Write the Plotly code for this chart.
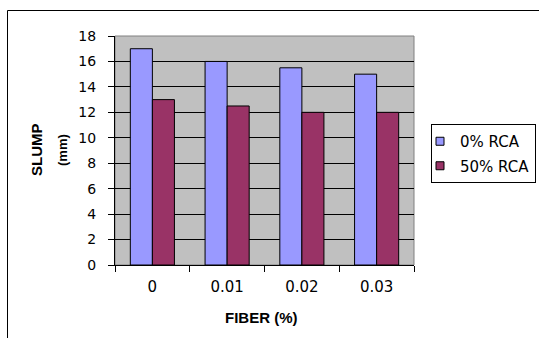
import plotly.graph_objects as go

categories = ["0", "0.01", "0.02", "0.03"]
rca0 = [17, 16, 15.5, 15]
rca50 = [13, 12.5, 12, 12]
series_names = ["0% RCA", "50% RCA"]
series_colors = ["#9999FF", "#993366"]
y_ticks = list(range(0, 19, 2))

W, H = 539, 338
L, R, T, B = 115, 414, 36, 265

def px_x(x):
    return (x - L) / (R - L)

def px_y(y):
    return (B - y) / (B - T)

fig = go.Figure()
for vals, name, col in zip([rca0, rca50], series_names, series_colors):
    fig.add_trace(go.Bar(x=categories, y=vals, name=name, showlegend=False,
                         marker=dict(color=col, line=dict(color="#000000", width=1))))
# legend entries with small square swatches
for name, col in zip(series_names, series_colors):
    fig.add_trace(go.Scatter(x=[None], y=[None], mode="markers", name=name,
                             legendgroup=name,
                             marker=dict(symbol="square", size=8, color=col,
                                         line=dict(color="#000000", width=1))))

font = "Liberation Sans, Arial, sans-serif"
tfont = "DejaVu Sans, Verdana, sans-serif"

fig.update_layout(
    width=W, height=H,
    margin=dict(l=L, r=W - R, t=T, b=H - B, pad=0, autoexpand=False),
    paper_bgcolor="white",
    plot_bgcolor="#C0C0C0",
    barmode="group",
    bargap=0.41,
    bargroupgap=0,
    font=dict(family=tfont, size=14, color="#000000"),
    showlegend=True,
    legend=dict(x=px_x(431), y=px_y(124), xanchor="left", yanchor="top",
                bgcolor="white", bordercolor="#000000", borderwidth=1,
                font=dict(family=tfont, size=15, color="#000000"),
                itemwidth=30, indentation=-12, traceorder="grouped",
                tracegroupgap=2),
)

fig.update_xaxes(
    type="category", showgrid=False, showline=True, linecolor="#000000", linewidth=1,
    ticks="outside", ticklen=6, tickcolor="#000000", tickson="boundaries",
    ticklabelstandoff=8, tickfont=dict(family=tfont, size=15), zeroline=False,
    automargin=False,
)
fig.update_yaxes(
    range=[0, 18], tickvals=y_ticks, showgrid=True, gridcolor="#000000", gridwidth=1,
    showline=True, linecolor="#000000", linewidth=1, zeroline=False,
    ticks="outside", ticklen=6, tickcolor="#000000", ticklabelstandoff=9,
    tickfont=dict(family=tfont, size=14), automargin=False,
)

# plot-area border (gray) and outer frame
fig.add_shape(type="rect", xref="paper", yref="paper", x0=0, y0=0, x1=1, y1=1,
              line=dict(color="#808080", width=1), layer="below")
fig.add_shape(type="rect", xref="paper", yref="paper",
              x0=px_x(7.5), y0=px_y(350), x1=px_x(550), y1=px_y(10.5),
              line=dict(color="#000000", width=1), layer="below")

fig.add_annotation(text="<b>SLUMP</b>", xref="paper", yref="paper",
                   x=px_x(36), y=px_y(150), textangle=-90, showarrow=False,
                   font=dict(family=font, size=15), xanchor="center", yanchor="middle")
fig.add_annotation(text="<b>(mm)</b>", xref="paper", yref="paper",
                   x=px_x(62), y=px_y(150), textangle=-90, showarrow=False,
                   font=dict(family=font, size=13), xanchor="center", yanchor="middle")
fig.add_annotation(text="<b>FIBER (%)</b>", xref="paper", yref="paper",
                   x=px_x(261), y=px_y(317), showarrow=False,
                   font=dict(family=font, size=15), xanchor="center", yanchor="middle")

fig.write_html("out.html")
